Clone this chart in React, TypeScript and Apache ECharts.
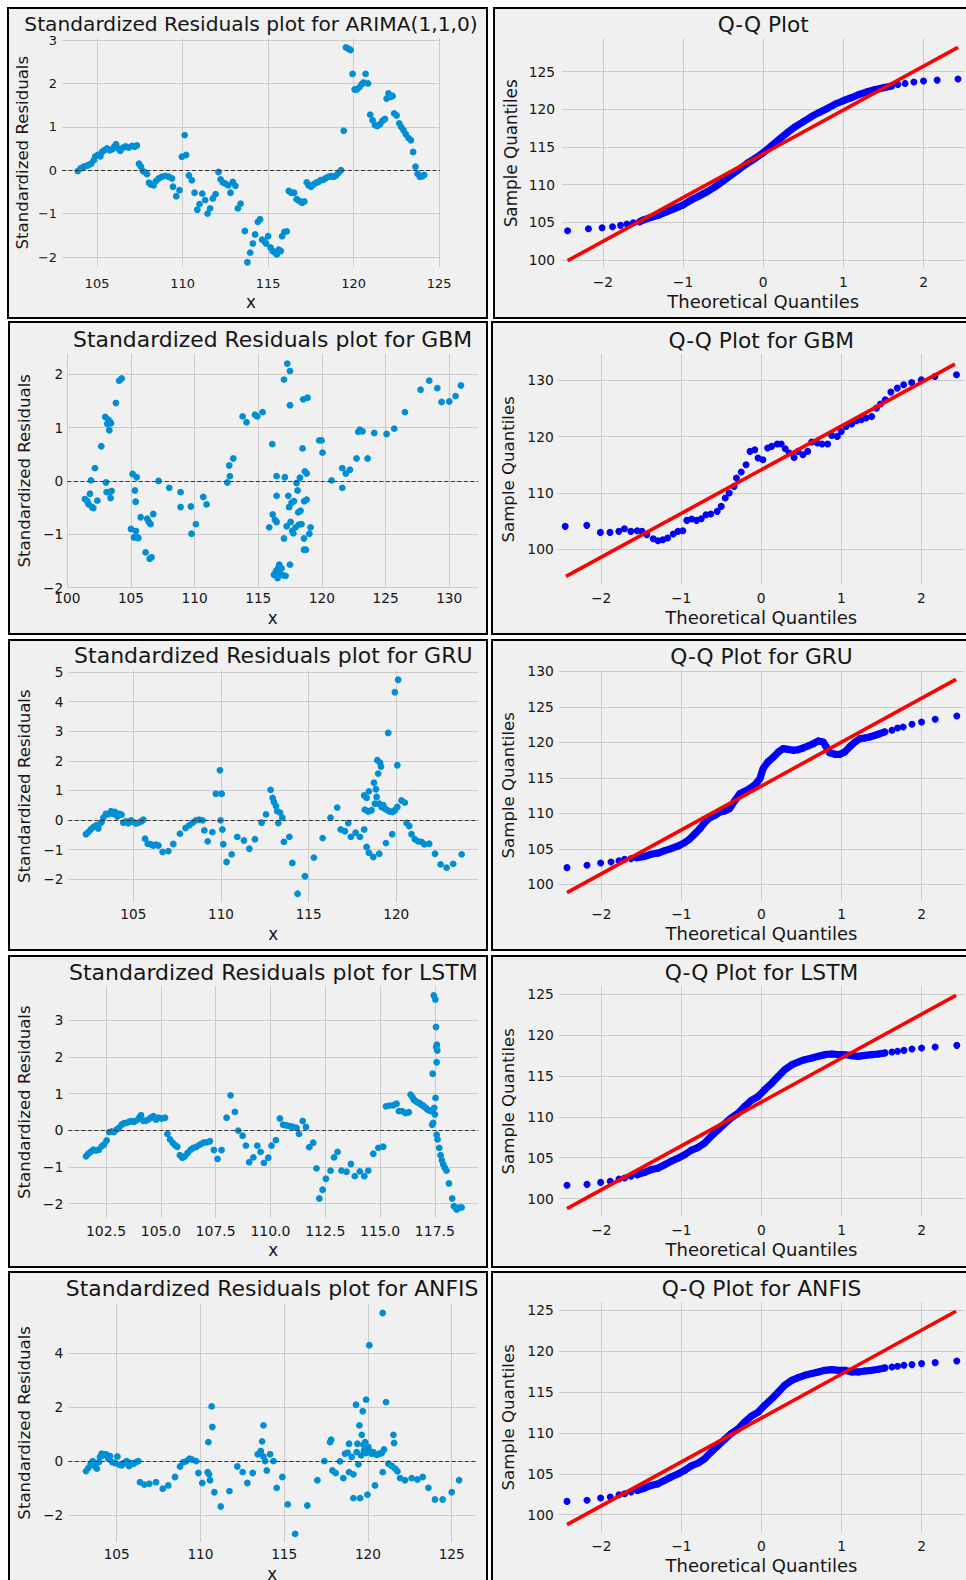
import React, { useEffect, useRef } from "react";
import * as echarts from "echarts";

type Pt = [number, number];

// ---------- Standardized residuals (x = price, y = standardized residual) ----------
const arimaResiduals: Pt[] = [
  [103.87,-0.02],[104.03,0.04],[104.22,0.08],[104.38,0.10],[104.51,0.12],[104.65,0.15],[104.81,0.23],[104.90,0.32],[105.04,0.35],[105.19,0.32],
  [105.29,0.42],[105.43,0.46],[105.58,0.50],[105.74,0.46],[105.88,0.48],[106.01,0.55],[106.11,0.60],[106.23,0.50],[106.36,0.45],[106.52,0.52],
  [106.67,0.55],[106.85,0.52],[107.04,0.56],[107.20,0.54],[107.33,0.57],[107.45,0.15],[107.57,0.08],[107.68,-0.02],[107.82,-0.05],[107.92,-0.09],
  [108.04,-0.29],[108.15,-0.33],[108.31,-0.35],[108.44,-0.25],[108.60,-0.19],[108.79,-0.15],[108.99,-0.13],[109.18,-0.15],[109.38,-0.19],[109.44,-0.38],
  [109.63,-0.60],[109.82,-0.46],[109.96,0.31],[110.12,0.81],[110.21,0.35],[110.37,-0.12],[110.54,-0.23],[110.70,-0.52],[110.86,-0.91],[110.99,-0.78],
  [111.15,-0.54],[111.32,-0.69],[111.46,-1.00],[111.61,-0.88],[111.77,-0.65],[111.93,-0.55],[112.10,-0.04],[112.22,-0.21],[112.35,-0.28],[112.51,-0.31],
  [112.67,-0.35],[112.80,-0.52],[112.94,-0.27],[113.09,-0.36],[113.23,-0.88],[113.39,-0.77],[113.64,-1.40],[113.79,-2.12],[113.95,-1.90],[114.11,-1.69],
  [114.24,-1.48],[114.40,-1.19],[114.53,-1.13],[114.65,-1.60],[114.79,-1.64],[114.88,-1.69],[115.00,-1.52],[115.14,-1.78],[115.27,-1.86],[115.41,-1.90],
  [115.51,-1.94],[115.62,-1.83],[115.74,-1.86],[115.82,-1.52],[115.95,-1.42],[116.09,-1.41],[116.21,-0.48],[116.36,-0.52],[116.52,-0.52],[116.67,-0.67],
  [116.83,-0.71],[116.98,-0.75],[117.12,-0.72],[117.26,-0.28],[117.37,-0.35],[117.51,-0.38],[117.65,-0.33],[117.80,-0.29],[117.94,-0.27],[118.07,-0.23],
  [118.23,-0.22],[118.39,-0.18],[118.54,-0.15],[118.68,-0.14],[118.83,-0.15],[118.97,-0.12],[119.12,-0.06],[119.26,0.00],[119.42,0.91],[119.55,2.83],
  [119.69,2.80],[119.82,2.77],[119.94,2.22],[120.06,1.86],[120.18,1.86],[120.33,1.91],[120.47,1.98],[120.58,2.02],[120.70,2.22],[120.84,2.00],
  [120.97,1.28],[121.11,1.15],[121.25,1.04],[121.38,1.02],[121.54,1.06],[121.69,1.14],[121.83,1.18],[121.93,1.65],[122.04,1.77],[122.14,1.69],
  [122.28,1.71],[122.37,1.31],[122.51,1.26],[122.67,1.08],[122.78,1.00],[122.92,0.92],[123.05,0.83],[123.21,0.74],[123.35,0.69],[123.48,0.42],
  [123.62,0.08],[123.74,-0.08],[123.87,-0.15],[124.01,-0.14],[124.12,-0.11]
];

const gbmResiduals: Pt[] = [
  [101.39,-0.34],[101.57,-0.38],[101.68,-0.44],[101.78,-0.24],[101.86,0.01],[101.94,-0.49],[102.04,-0.51],[102.17,0.24],[102.36,-0.37],[102.67,0.65],
  [102.98,1.20],[103.04,-0.03],[103.09,-0.21],[103.14,1.07],[103.22,1.15],[103.30,0.95],[103.35,1.11],[103.40,-0.32],[103.30,-0.21],[103.48,-0.19],
  [103.43,1.08],[103.82,1.46],[104.08,1.88],[104.27,1.92],[105.00,-0.90],[105.13,0.13],[105.24,-1.06],[105.31,-0.18],[105.37,-0.39],[105.39,-0.94],
  [105.45,0.07],[105.50,-1.06],[105.58,-1.07],[105.76,-0.68],[106.15,-1.34],[106.28,-0.71],[106.41,-0.77],[106.47,-1.46],[106.62,-1.43],[106.54,-0.81],
  [106.75,-0.62],[107.17,0.00],[108.01,-0.13],[108.90,-0.21],[108.90,-0.49],[109.71,-0.48],[109.76,-0.99],[110.10,-0.81],[110.68,-0.30],[110.94,-0.44],
  [112.57,-0.03],[112.72,0.29],[112.77,0.09],[113.04,0.42],[113.77,1.21],[114.08,1.10],[114.74,1.24],[114.92,1.21],[115.34,1.29],[115.86,-0.87],
  [116.10,0.69],[116.13,-0.63],[116.23,-1.76],[116.31,-0.73],[116.39,-1.69],[116.44,-0.77],[116.44,0.09],[116.44,-0.28],[116.52,-1.82],[116.57,-1.63],
  [116.65,-1.57],[116.70,-1.74],[116.83,-1.64],[116.96,-1.77],[117.02,1.90],[117.02,-1.08],[117.09,0.07],[117.15,-1.78],[117.23,-0.85],[117.28,2.20],
  [117.36,-0.28],[117.43,-0.49],[117.49,2.06],[117.49,1.42],[117.49,-1.57],[117.54,-0.77],[117.62,-0.41],[117.67,-0.94],[117.75,-0.98],[117.80,-0.38],
  [117.93,-0.87],[118.01,-0.04],[118.09,-0.18],[118.14,-0.59],[118.19,-0.82],[118.27,0.06],[118.32,-0.56],[118.40,-0.81],[118.48,0.61],[118.53,1.53],
  [118.59,-1.08],[118.59,-1.29],[118.61,-0.38],[118.66,0.18],[118.74,-1.29],[118.80,-0.35],[118.80,0.14],[118.87,1.56],[119.01,-0.99],[119.11,-0.87],
  [119.79,0.76],[119.97,0.76],[120.05,0.53],[120.76,0.01],[121.60,0.24],[121.60,-0.13],[121.88,0.14],[122.20,0.21],[122.72,0.42],[122.85,0.92],
  [122.98,0.96],[123.19,0.93],[123.59,0.42],[124.11,0.90],[125.08,0.88],[125.68,0.98],[126.52,1.29],[127.75,1.71],[128.43,1.88],[129.06,1.74],
  [129.40,1.48],[130.00,1.49],[130.50,1.59],[130.92,1.79]
];

const gruResiduals: Pt[] = [
  [102.30,-0.48],[102.43,-0.41],[102.57,-0.32],[102.72,-0.24],[102.87,-0.18],[103.00,-0.29],[103.10,-0.12],[103.19,-0.07],[103.29,0.08],[103.44,0.21],
  [103.57,0.19],[103.73,0.30],[103.86,0.21],[103.95,0.27],[104.09,0.12],[104.20,0.21],[104.33,0.18],[104.43,-0.09],[104.58,-0.05],[104.71,-0.11],
  [104.87,-0.01],[105.00,-0.07],[105.15,-0.12],[105.29,-0.09],[105.44,-0.05],[105.57,0.01],[105.67,-0.63],[105.82,-0.80],[105.99,-0.82],[106.14,-0.86],
  [106.29,-0.83],[106.43,-0.86],[106.67,-1.08],[107.00,-1.05],[107.28,-0.81],[107.66,-0.46],[107.98,-0.27],[108.19,-0.18],[108.38,-0.09],[108.57,-0.01],
  [108.76,0.01],[108.95,-0.01],[109.05,-0.35],[109.24,-0.72],[109.51,-0.41],[109.71,0.89],[109.94,1.68],[109.98,-0.01],[110.04,0.89],[110.08,-0.32],
  [110.13,-0.82],[110.32,-1.42],[110.61,-1.16],[110.93,-0.57],[111.31,-0.69],[111.62,-0.97],[111.94,-0.65],[112.32,-0.09],[112.57,0.19],[112.83,1.02],
  [112.95,0.75],[113.02,0.61],[113.14,0.47],[113.21,0.30],[113.27,-0.10],[113.37,0.25],[113.50,0.08],[113.59,-0.74],[113.90,-0.57],[114.07,-1.45],
  [114.37,-2.49],[114.79,-1.90],[115.30,-1.27],[115.80,-0.61],[116.25,0.08],[116.63,0.42],[116.83,-0.32],[117.07,-0.38],[117.26,-0.10],[117.41,-0.57],
  [117.68,-0.43],[117.93,-0.57],[118.17,-0.32],[118.17,0.83],[118.21,0.35],[118.31,0.75],[118.31,-0.91],[118.40,0.29],[118.44,0.97],[118.44,-1.11],
  [118.59,0.33],[118.69,-1.25],[118.73,1.26],[118.78,0.55],[118.84,1.04],[118.88,0.78],[118.92,2.02],[118.97,1.57],[119.03,0.55],[119.07,1.94],
  [119.03,-1.14],[119.13,1.81],[119.16,0.44],[119.26,0.50],[119.35,0.38],[119.41,-0.78],[119.49,0.33],[119.54,2.94],[119.64,0.29],[119.77,-0.48],
  [119.79,0.27],[119.92,4.32],[119.92,0.33],[120.06,1.85],[120.06,0.44],[120.11,4.74],[120.30,0.66],[120.49,0.59],[120.59,-0.10],[120.74,-0.20],
  [120.87,-0.48],[121.06,-0.65],[121.25,-0.72],[121.44,-0.74],[121.60,-0.82],[121.88,-0.80],[122.21,-1.14],[122.53,-1.50],[122.87,-1.61],[123.25,-1.48],
  [123.73,-1.16]
];

const lstmResiduals: Pt[] = [
  [101.59,-0.71],[101.69,-0.64],[101.80,-0.59],[101.92,-0.53],[102.04,-0.55],[102.17,-0.53],[102.30,-0.44],[102.41,-0.39],[102.53,-0.28],[102.65,-0.05],
  [102.76,-0.03],[102.86,-0.05],[102.99,0.02],[103.09,0.06],[103.21,0.15],[103.32,0.19],[103.44,0.20],[103.56,0.23],[103.67,0.25],[103.78,0.23],
  [103.90,0.27],[104.02,0.35],[104.10,0.41],[104.20,0.26],[104.32,0.26],[104.43,0.29],[104.54,0.34],[104.66,0.38],[104.78,0.29],[104.89,0.34],
  [105.04,0.32],[105.19,0.34],[105.30,-0.10],[105.42,-0.25],[105.54,-0.34],[105.65,-0.41],[105.75,-0.45],[105.87,-0.68],[105.98,-0.75],[106.10,-0.71],
  [106.22,-0.62],[106.36,-0.53],[106.48,-0.48],[106.63,-0.45],[106.79,-0.39],[106.94,-0.34],[107.09,-0.33],[107.24,-0.30],[107.42,-0.54],[107.59,-0.78],
  [107.77,-0.54],[108.00,0.34],[108.18,0.95],[108.38,0.50],[108.53,-0.01],[108.73,-0.15],[108.88,-0.42],[109.03,-0.87],[109.22,-0.74],[109.40,-0.42],
  [109.55,-0.59],[109.70,-0.89],[109.90,-0.75],[110.05,-0.42],[110.25,-0.27],[110.43,0.32],[110.58,0.15],[110.74,0.13],[110.89,0.11],[111.04,0.09],
  [111.19,0.06],[111.30,-0.10],[111.47,0.25],[111.62,0.09],[111.77,-0.46],[111.95,-0.34],[112.10,-1.04],[112.23,-1.86],[112.38,-1.62],[112.53,-1.32],
  [112.74,-1.10],[112.90,-0.74],[113.06,-0.59],[113.24,-1.10],[113.47,-1.13],[113.67,-0.92],[113.85,-1.25],[114.08,-1.12],[114.28,-1.25],[114.46,-1.10],
  [114.69,-0.64],[114.92,-0.48],[115.14,-0.45],[115.27,0.65],[115.42,0.67],[115.60,0.68],[115.75,0.72],[115.86,0.52],[116.01,0.52],[116.16,0.47],
  [116.31,0.49],[116.39,0.97],[116.48,0.90],[116.54,0.83],[116.63,0.79],[116.71,0.76],[116.79,0.74],[116.86,0.70],[116.94,0.68],[117.01,0.64],
  [117.09,0.61],[117.16,0.56],[117.24,0.54],[117.32,0.52],[117.38,0.15],[117.40,1.54],[117.42,0.20],[117.45,3.67],[117.47,0.61],[117.50,0.43],
  [117.52,3.56],[117.53,0.88],[117.55,2.81],[117.56,2.27],[117.58,1.85],[117.59,2.33],[117.61,2.17],[117.58,-0.12],[117.62,-0.25],[117.70,-0.48],
  [117.76,-0.68],[117.82,-0.82],[117.88,-0.93],[117.96,-1.03],[118.03,-1.10],[118.14,-1.45],[118.29,-1.86],[118.37,-2.07],[118.49,-2.16],[118.61,-2.11],
  [118.72,-2.10]
];

const anfisResiduals: Pt[] = [
  [103.17,-0.37],[103.31,-0.25],[103.45,-0.10],[103.57,0.00],[103.69,-0.18],[103.81,-0.28],[103.93,-0.04],[104.00,0.15],[104.10,0.27],[104.20,0.21],
  [104.36,0.25],[104.50,0.09],[104.60,0.18],[104.74,-0.04],[104.90,-0.07],[105.04,0.17],[105.16,-0.14],[105.30,-0.16],[105.44,-0.07],[105.60,0.00],
  [105.74,-0.18],[105.86,-0.07],[106.00,-0.10],[106.15,-0.04],[106.29,0.00],[106.39,-0.78],[106.65,-0.87],[106.95,-0.84],[107.35,-0.78],[107.75,-1.02],
  [108.08,-0.90],[108.48,-0.59],[108.78,-0.20],[108.98,-0.04],[109.14,-0.01],[109.34,0.09],[109.48,0.06],[109.74,0.00],[109.88,-0.44],[110.11,-0.81],
  [110.43,-0.41],[110.47,0.70],[110.51,-0.49],[110.57,-0.71],[110.67,2.02],[110.71,1.26],[110.83,-1.15],[111.21,-1.68],[111.73,-1.11],[112.20,-0.20],
  [112.52,-0.41],[112.80,-0.81],[113.12,-0.44],[113.42,0.25],[113.60,0.37],[113.68,0.73],[113.76,1.32],[113.86,0.00],[113.76,0.17],[113.96,-0.35],
  [114.16,0.25],[114.36,0.00],[114.55,-0.99],[114.89,-0.59],[115.21,-1.60],[115.65,-2.69],[116.38,-1.64],[116.98,-0.71],[117.40,0.00],[117.74,0.70],
  [117.80,0.79],[117.88,-0.35],[118.07,-0.44],[118.33,-0.01],[118.53,-0.63],[118.63,0.27],[118.79,0.31],[118.87,0.64],[118.87,-0.41],[119.03,0.15],
  [119.13,-0.49],[119.13,-1.37],[119.29,2.08],[119.33,0.33],[119.37,0.64],[119.43,-0.12],[119.49,1.32],[119.53,-1.37],[119.59,0.21],[119.63,0.97],
  [119.69,1.84],[119.73,0.60],[119.77,0.39],[119.83,0.70],[119.89,2.27],[119.89,0.30],[119.97,-1.24],[120.02,0.52],[120.08,4.28],[120.12,0.36],
  [120.22,0.27],[120.32,0.33],[120.42,-0.90],[120.52,0.23],[120.68,0.27],[120.82,0.30],[120.88,-0.41],[120.88,5.47],[120.96,0.43],[121.08,2.18],
  [121.22,-0.10],[121.42,-0.18],[121.52,0.97],[121.56,0.67],[121.62,-0.28],[121.76,-0.38],[121.92,-0.63],[122.21,-0.71],[122.61,-0.63],[122.95,-0.68],
  [123.27,-0.59],[123.61,-0.99],[124.00,-1.42],[124.46,-1.42],[125.00,-1.15],[125.44,-0.71]
];

// ---------- Q-Q plots (x = theoretical quantile, y = sample quantile) ----------
const qqArima: Pt[] = [
  [-2.44,103.89],[-2.18,104.16],[-2.01,104.29],[-1.88,104.42],[-1.78,104.60],[-1.70,104.78],[-1.62,104.96],[-1.54,105.09],[-1.5,105.30],[-1.4,105.66],
  [-1.3,105.97],[-1.2,106.42],[-1.1,106.86],[-1.0,107.30],[-0.9,107.96],[-0.8,108.50],[-0.7,109.07],[-0.6,109.73],[-0.5,110.49],[-0.4,111.28],
  [-0.3,112.04],[-0.2,112.83],[-0.1,113.50],[0,114.25],[0.1,115.13],[0.2,116.02],[0.3,116.90],[0.4,117.70],[0.5,118.36],[0.6,119.03],
  [0.7,119.60],[0.8,120.13],[0.9,120.71],[1.0,121.15],[1.1,121.55],[1.2,121.99],[1.3,122.35],[1.4,122.65],[1.5,122.88],[1.6,123.10],
  [1.68,123.32],[1.77,123.45],[1.88,123.63],[2.00,123.76],[2.17,123.89],[2.43,124.03]
];
const qqArimaLine: Pt[] = [[-2.44, 99.91], [2.43, 128.23]];

const qqGbm: Pt[] = [
  [-2.45,104.03],[-2.18,104.21],[-2.01,102.96],[-1.89,102.96],[-1.78,103.14],[-1.71,103.62],[-1.63,103.14],[-1.55,103.26],[-1.49,103.14],[-1.43,102.55],
  [-1.35,101.84],[-1.29,101.48],[-1.23,101.66],[-1.17,101.96],[-1.10,102.67],[-1.04,103.14],[-0.98,103.26],[-0.93,105.10],[-0.87,105.33],[-0.81,105.10],
  [-0.75,105.39],[-0.69,106.11],[-0.63,106.22],[-0.55,106.70],[-0.50,107.59],[-0.45,109.07],[-0.40,109.96],[-0.34,111.14],[-0.31,112.63],[-0.25,113.69],
  [-0.19,115.00],[-0.14,117.37],[-0.08,117.66],[-0.04,116.18],[0.02,115.89],[0.08,117.96],[0.13,118.26],[0.20,118.67],[0.25,118.67],[0.30,117.84],
  [0.35,117.07],[0.41,116.30],[0.46,117.37],[0.52,116.78],[0.58,117.37],[0.63,119.03],[0.70,118.85],[0.76,118.67],[0.83,118.67],[0.88,120.21],
  [0.95,120.04],[1.00,120.92],[1.06,121.81],[1.13,122.23],[1.19,122.82],[1.25,123.00],[1.31,123.30],[1.38,123.59],[1.44,125.07],[1.49,125.79],
  [1.55,126.56],[1.62,127.92],[1.70,128.63],[1.78,129.22],[1.88,129.64],[2.00,130.11],[2.17,130.71],[2.44,131.00]
];
const qqGbmLine: Pt[] = [[-2.44, 95.14], [2.42, 132.9]];

const qqGru: Pt[] = [
  [-2.43,102.35],[-2.18,102.68],[-2.01,103.00],[-1.88,103.15],[-1.78,103.33],[-1.71,103.52],[-1.63,103.62],[-1.56,103.76],[-1.46,103.94],[-1.38,104.23],
  [-1.29,104.41],[-1.21,104.74],[-1.13,105.02],[-1.04,105.40],[-0.96,105.87],[-0.90,106.34],[-0.83,107.14],[-0.77,107.84],[-0.71,108.69],[-0.65,109.34],
  [-0.58,109.72],[-0.52,110.19],[-0.46,110.33],[-0.40,110.66],[-0.33,111.83],[-0.27,112.77],[-0.21,113.10],[-0.15,113.47],[-0.08,114.04],[-0.02,114.88],
  [0.02,116.29],[0.08,117.23],[0.15,117.93],[0.21,118.64],[0.27,119.11],[0.33,119.01],[0.40,118.87],[0.46,118.97],[0.52,119.20],[0.58,119.48],
  [0.65,119.81],[0.71,120.19],[0.77,120.05],[0.81,119.34],[0.85,118.54],[0.92,118.31],[0.98,118.31],[1.04,118.64],[1.10,119.34],[1.17,120.05],
  [1.23,120.52],[1.29,120.61],[1.35,120.75],[1.42,120.99],[1.48,121.22],[1.54,121.46],[1.63,121.69],[1.70,122.02],[1.77,122.16],[1.88,122.54],
  [2.00,122.86],[2.17,123.24],[2.44,123.71]
];
const qqGruLine: Pt[] = [[-2.43, 98.83], [2.43, 128.87]];

const qqLstm: Pt[] = [
  [-2.43,101.63],[-2.18,101.75],[-2.01,101.99],[-1.89,102.12],[-1.78,102.40],[-1.71,102.52],[-1.63,102.73],[-1.55,102.93],[-1.46,103.22],[-1.38,103.54],
  [-1.29,103.74],[-1.21,104.15],[-1.13,104.56],[-1.04,104.97],[-0.96,105.37],[-0.88,105.90],[-0.79,106.27],[-0.71,106.80],[-0.63,107.61],[-0.54,108.42],
  [-0.46,109.16],[-0.38,109.85],[-0.29,110.46],[-0.21,111.27],[-0.13,111.97],[-0.04,112.49],[0.04,113.31],[0.13,114.12],[0.21,114.94],[0.29,115.75],
  [0.38,116.36],[0.46,116.69],[0.54,116.97],[0.63,117.18],[0.71,117.38],[0.79,117.58],[0.88,117.66],[0.96,117.58],[1.04,117.58],[1.13,117.46],
  [1.21,117.38],[1.29,117.50],[1.38,117.58],[1.46,117.66],[1.54,117.79],[1.63,117.91],[1.70,117.99],[1.78,118.11],[1.88,118.27],[2.00,118.40],
  [2.17,118.52],[2.44,118.72]
];
const qqLstmLine: Pt[] = [[-2.43, 98.78], [2.43, 124.83]];

const qqAnfis: Pt[] = [
  [-2.43,101.63],[-2.18,101.76],[-2.01,102.04],[-1.89,102.16],[-1.78,102.45],[-1.71,102.57],[-1.63,102.78],[-1.55,102.98],[-1.46,103.27],[-1.38,103.59],
  [-1.29,103.80],[-1.21,104.20],[-1.13,104.61],[-1.04,105.02],[-0.96,105.43],[-0.88,105.96],[-0.79,106.33],[-0.71,106.86],[-0.63,107.67],[-0.54,108.49],
  [-0.46,109.22],[-0.38,109.92],[-0.29,110.53],[-0.21,111.35],[-0.13,112.04],[-0.04,112.57],[0.04,113.39],[0.13,114.20],[0.21,115.02],[0.29,115.84],
  [0.38,116.45],[0.46,116.78],[0.54,117.06],[0.63,117.27],[0.71,117.47],[0.79,117.67],[0.88,117.76],[0.96,117.67],[1.04,117.67],[1.13,117.47],
  [1.21,117.47],[1.29,117.59],[1.38,117.67],[1.46,117.80],[1.54,117.96],[1.63,118.08],[1.70,118.16],[1.78,118.29],[1.88,118.37],[2.00,118.49],
  [2.17,118.61],[2.44,118.82]
];
const qqAnfisLine: Pt[] = [[-2.43, 98.78], [2.43, 124.9]];

// ---------- tick values ----------
const arimaXTicks = [105, 110, 115, 120, 125];
const arimaYTicks = [-2, -1, 0, 1, 2, 3];
const gbmXTicks = [100, 105, 110, 115, 120, 125, 130];
const gbmYTicks = [-2, -1, 0, 1, 2];
const gruXTicks = [105, 110, 115, 120];
const gruYTicks = [-2, -1, 0, 1, 2, 3, 4, 5];
const lstmXTicks = [102.5, 105, 107.5, 110, 112.5, 115, 117.5];
const lstmYTicks = [-2, -1, 0, 1, 2, 3];
const anfisXTicks = [105, 110, 115, 120, 125];
const anfisYTicks = [-2, 0, 2, 4];
const qqXTicks = [-2, -1, 0, 1, 2];
const qqArimaYTicks = [100, 105, 110, 115, 120, 125];
const qqGbmYTicks = [100, 110, 120, 130];
const qqGruYTicks = [100, 105, 110, 115, 120, 125, 130];
const qqLstmYTicks = [100, 105, 110, 115, 120, 125];
const qqAnfisYTicks = [100, 105, 110, 115, 120, 125];

// ---------- layout / style ----------
const FONT = "DejaVu Sans";
const TEXT = "#161616";
const GRID_LINE = "#cbcbcb";
const PANEL_BG = "#f0f0f0";

type Layout = {
  box: [number, number, number, number];
  grid: { left: number; top: number; width: number; height: number };
  titleY: number; titleSize: number;
  xNameY: number; yNameX: number; xNameSize: number; yNameSize: number;
  xMargin: number; yMargin: number; tickSize: number;
};

type Panel = {
  kind: "resid" | "qq";
  title: string;
  data: Pt[];
  line?: Pt[];
  band?: boolean;
  xRange: [number, number];
  yRange: [number, number];
  xTicks: number[];
  yTicks: number[];
  xDecimals?: number;
  layout: Layout;
};

const panels: Panel[] = [
  {
    kind: "resid", title: "Standardized Residuals plot for ARIMA(1,1,0)", data: arimaResiduals,
    xRange: [102.95, 125.05], yRange: [-2.23, 3.04], xTicks: arimaXTicks, yTicks: arimaYTicks,
    layout: { box: [7, 7, 488, 319], grid: { left: 62, top: 38.3, width: 378, height: 228.7 }, titleY: 23.5, titleSize: 20.2,
      xNameY: 302, yNameX: 22.7, xNameSize: 16.8, yNameSize: 16.6, xMargin: 9.6, yMargin: 5, tickSize: 12.9 },
  },
  {
    kind: "qq", title: "Q-Q Plot", data: qqArima, line: qqArimaLine, band: true,
    xRange: [-2.51, 2.51], yRange: [98.9, 129.44], xTicks: qqXTicks, yTicks: qqArimaYTicks,
    layout: { box: [493, 7, 980, 319], grid: { left: 562, top: 38.3, width: 402.4, height: 230 }, titleY: 24, titleSize: 21.7,
      xNameY: 301.7, yNameX: 511, xNameSize: 18, yNameSize: 16.8, xMargin: 6.6, yMargin: 7, tickSize: 13.8 },
  },
  {
    kind: "resid", title: "Standardized Residuals plot for GBM", data: gbmResiduals,
    xRange: [100, 132.26], yRange: [-2.0, 2.38], xTicks: gbmXTicks, yTicks: gbmYTicks,
    layout: { box: [8, 321, 488, 635], grid: { left: 67.3, top: 354, width: 410.7, height: 233.6 }, titleY: 339.7, titleSize: 21.9,
      xNameY: 618, yNameX: 24, xNameSize: 16.8, yNameSize: 16.6, xMargin: 3.2, yMargin: 4, tickSize: 13.7 },
  },
  {
    kind: "qq", title: "Q-Q Plot for GBM", data: qqGbm, line: qqGbmLine, band: false,
    xRange: [-2.54, 2.54], yRange: [93.65, 134.7], xTicks: qqXTicks, yTicks: qqGbmYTicks,
    layout: { box: [491, 321, 980, 635], grid: { left: 558, top: 354, width: 406.5, height: 230.7 }, titleY: 340.7, titleSize: 21.75,
      xNameY: 617, yNameX: 508.7, xNameSize: 18, yNameSize: 16.6, xMargin: 5.9, yMargin: 4.3, tickSize: 13.8 },
  },
  {
    kind: "resid", title: "Standardized Residuals plot for GRU", data: gruResiduals,
    xRange: [101.29, 124.68], yRange: [-2.77, 5.06], xTicks: gruXTicks, yTicks: gruYTicks,
    layout: { box: [8, 639, 488, 951], grid: { left: 68.3, top: 670.3, width: 410, height: 231.7 }, titleY: 655.3, titleSize: 22,
      xNameY: 934.3, yNameX: 24, xNameSize: 16.8, yNameSize: 16.6, xMargin: 5, yMargin: 5, tickSize: 13.6 },
  },
  {
    kind: "qq", title: "Q-Q Plot for GRU", data: qqGru, line: qqGruLine, band: true,
    xRange: [-2.53, 2.53], yRange: [97.75, 130.14], xTicks: qqXTicks, yTicks: qqGruYTicks,
    layout: { box: [491, 639, 980, 951], grid: { left: 559, top: 670.3, width: 405, height: 230 }, titleY: 656, titleSize: 21.7,
      xNameY: 933.7, yNameX: 508.7, xNameSize: 18, yNameSize: 16.6, xMargin: 6.7, yMargin: 5.3, tickSize: 13.8 },
  },
  {
    kind: "resid", title: "Standardized Residuals plot for LSTM", data: lstmResiduals,
    xRange: [100.78, 119.48], yRange: [-2.39, 3.92], xTicks: lstmXTicks, yTicks: lstmYTicks, xDecimals: 1,
    layout: { box: [8, 955, 488, 1268], grid: { left: 68.3, top: 986.3, width: 410, height: 231.7 }, titleY: 972, titleSize: 22,
      xNameY: 1250.3, yNameX: 24, xNameSize: 16.8, yNameSize: 16.6, xMargin: 5.6, yMargin: 5, tickSize: 14 },
  },
  {
    kind: "qq", title: "Q-Q Plot for LSTM", data: qqLstm, line: qqLstmLine, band: true,
    xRange: [-2.53, 2.53], yRange: [97.85, 125.93], xTicks: qqXTicks, yTicks: qqLstmYTicks,
    layout: { box: [491, 955, 980, 1268], grid: { left: 559, top: 986.3, width: 405, height: 230 }, titleY: 972, titleSize: 21.8,
      xNameY: 1249.7, yNameX: 508.7, xNameSize: 18, yNameSize: 16.6, xMargin: 6.7, yMargin: 5.3, tickSize: 13.8 },
  },
  {
    kind: "resid", title: "Standardized Residuals plot for ANFIS", data: anfisResiduals,
    xRange: [102.11, 126.45], yRange: [-2.99, 5.815], xTicks: anfisXTicks, yTicks: anfisYTicks,
    layout: { box: [8, 1271, 488, 1600], grid: { left: 68.3, top: 1303.7, width: 407.7, height: 238.3 }, titleY: 1288, titleSize: 21.9,
      xNameY: 1573.7, yNameX: 24, xNameSize: 16.8, yNameSize: 16.6, xMargin: 5, yMargin: 5, tickSize: 13.7 },
  },
  {
    kind: "qq", title: "Q-Q Plot for ANFIS", data: qqAnfis, line: qqAnfisLine, band: true,
    xRange: [-2.53, 2.53], yRange: [97.8, 126.03], xTicks: qqXTicks, yTicks: qqAnfisYTicks,
    layout: { box: [491, 1271, 980, 1600], grid: { left: 559, top: 1302, width: 405, height: 230.7 }, titleY: 1288, titleSize: 21.8,
      xNameY: 1565.3, yNameX: 508.7, xNameSize: 18, yNameSize: 16.6, xMargin: 6.6, yMargin: 5.3, tickSize: 13.8 },
  },
];

const fmt = (v: number, decimals?: number) =>
  (decimals != null ? v.toFixed(decimals) : String(v)).replace("-", "\u2212");

function buildOption() {
  const grid: any[] = [];
  const xAxis: any[] = [];
  const yAxis: any[] = [];
  const series: any[] = [];
  const graphic: any[] = [];

  panels.forEach((p, i) => {
    const L = p.layout;
    grid.push({ ...L.grid, show: false });
    const labelBase = { color: TEXT, fontFamily: FONT, fontSize: L.tickSize };
    xAxis.push({
      type: "value", gridIndex: i, min: p.xRange[0], max: p.xRange[1],
      axisLine: { show: false },
      axisTick: { show: false, customValues: p.xTicks },
      axisLabel: { ...labelBase, margin: L.xMargin, customValues: p.xTicks,
        formatter: (v: number) => fmt(v, p.xDecimals) },
      splitLine: { show: true, lineStyle: { color: GRID_LINE, width: 1 } },
    });
    yAxis.push({
      type: "value", gridIndex: i, min: p.yRange[0], max: p.yRange[1],
      axisLine: { show: false },
      axisTick: { show: false, customValues: p.yTicks },
      axisLabel: { ...labelBase, margin: L.yMargin, customValues: p.yTicks,
        formatter: (v: number) => fmt(v) },
      splitLine: { show: true, lineStyle: { color: GRID_LINE, width: 1 } },
    });

    if (p.kind === "resid") {
      series.push({
        type: "scatter", name: p.title, xAxisIndex: i, yAxisIndex: i, data: p.data,
        symbolSize: 6.8, itemStyle: { color: "#008fd5", opacity: 1 }, z: 3,
        markLine: {
          silent: true, symbol: "none", label: { show: false },
          lineStyle: { color: "#333333", type: [4, 2.5], width: 1 },
          emphasis: { disabled: true },
          data: [{ yAxis: 0 }],
        },
      });
    } else {
      if (p.band) {
        series.push({
          type: "line", xAxisIndex: i, yAxisIndex: i,
          data: p.data.filter((d) => Math.abs(d[0]) <= 1.6),
          showSymbol: false, symbol: "none",
          lineStyle: { color: "#0000ff", width: 7.2, cap: "round", join: "round" }, z: 3,
        });
      }
      series.push({
        type: "scatter", name: p.title, xAxisIndex: i, yAxisIndex: i, data: p.data,
        symbolSize: 7, itemStyle: { color: "#0000ff", opacity: 1 }, z: 3,
      });
      series.push({
        type: "line", xAxisIndex: i, yAxisIndex: i, data: p.line,
        showSymbol: false, symbol: "none",
        lineStyle: { color: "#ff0000", width: 3.6 }, z: 5,
      });
    }

    const cx = L.grid.left + L.grid.width / 2;
    const cy = L.grid.top + L.grid.height / 2;
    const textStyle = (text: string, size: number) => ({
      text, fill: TEXT, fontSize: size, fontFamily: FONT,
      textAlign: "center", textVerticalAlign: "middle", align: "center", verticalAlign: "middle",
    });
    graphic.push({ type: "text", x: cx, y: L.titleY, silent: true, z: 10, style: textStyle(p.title, L.titleSize) });
    graphic.push({
      type: "text", x: cx, y: L.xNameY, silent: true, z: 10,
      style: textStyle(p.kind === "resid" ? "x" : "Theoretical Quantiles", L.xNameSize),
    });
    graphic.push({
      type: "text", x: L.yNameX, y: cy, rotation: Math.PI / 2, silent: true, z: 10,
      style: textStyle(p.kind === "resid" ? "Standardized Residuals" : "Sample Quantiles", L.yNameSize),
    });
  });

  return { animation: false, backgroundColor: "transparent", grid, xAxis, yAxis, series, graphic };
}

export default function App() {
  const ref = useRef<HTMLDivElement>(null);
  useEffect(() => {
    if (!ref.current) return;
    const chart = echarts.init(ref.current, undefined, { renderer: "svg" });
    chart.setOption(buildOption() as any);
    return () => chart.dispose();
  }, []);

  return (
    <div style={{ position: "absolute", left: 0, top: 0, width: 966, height: 1580, overflow: "hidden", background: "#ffffff" }}>
      {panels.map((p, i) => {
        const [x0, y0, x1, y1] = p.layout.box;
        return (
          <div key={i} style={{
            position: "absolute", left: x0, top: y0, width: x1 - x0, height: y1 - y0,
            boxSizing: "border-box", border: "2px solid #000", background: PANEL_BG,
          }} />
        );
      })}
      <div ref={ref} style={{ position: "absolute", left: 0, top: 0, width: 966, height: 1580 }} />
    </div>
  );
}
